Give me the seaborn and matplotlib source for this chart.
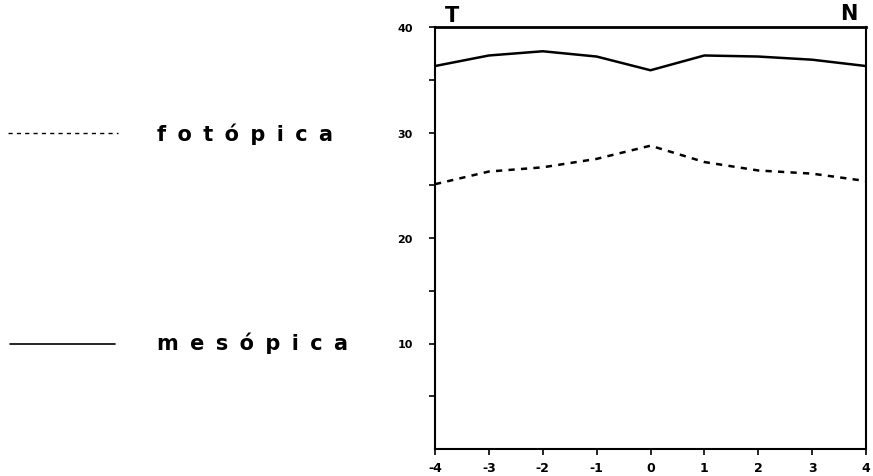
import matplotlib
matplotlib.use("Agg")
import matplotlib.pyplot as plt
from matplotlib.lines import Line2D
import seaborn as sns
import pandas as pd

x_vals = [-4, -3, -2, -1, 0, 1, 2, 3, 4]
mesopica = [36.3, 37.3, 37.7, 37.2, 35.9, 37.3, 37.2, 36.9, 36.3]
fotopica = [25.1, 26.3, 26.7, 27.5, 28.75, 27.2, 26.4, 26.1, 25.4]
y_ticks_major = [10, 20, 30, 40]
y_ticks_all = [5, 10, 15, 20, 25, 30, 35, 40]
x_tick_labels = ["-4", "-3", "-2", "-1", "0", "1", "2", "3", "4"]

sns.set_theme(style="white")
plt.rcParams['font.family'] = ['DejaVu Sans']
plt.rcParams['text.color'] = 'black'
plt.rcParams['xtick.color'] = 'black'
plt.rcParams['ytick.color'] = 'black'

df = pd.DataFrame({
    "x": x_vals * 2,
    "y": mesopica + fotopica,
    "serie": ["mesópica"] * len(x_vals) + ["fotópica"] * len(x_vals),
})

fig = plt.figure(figsize=(8.73, 4.77), dpi=100)
W, H = 873, 477
ax = fig.add_axes([435 / W, (H - 450) / H, (866 - 435) / W, (450 - 28) / H])

sns.lineplot(data=df, x="x", y="y", style="serie",
             dashes={"mesópica": "", "fotópica": (2.5, 2.5)},
             color="black", linewidth=1.8, legend=False, ax=ax)

ax.set_xlim(-4, 4)
ax.set_ylim(0, 40)
ax.set_xticks(x_vals)
ax.set_xticklabels(x_tick_labels, fontsize=9, fontweight="bold")
ax.set_yticks(y_ticks_all)
ax.set_yticklabels([str(v) if v in y_ticks_major else "" for v in y_ticks_all],
                   fontsize=8, fontweight="bold")
ax.tick_params(axis="both", direction="out", length=4, width=1.2, color="black",
               bottom=True, left=True)
ax.tick_params(axis="y", pad=12)
ax.tick_params(axis="x", pad=5)
ax.set_xlabel("")
ax.set_ylabel("")
for s in ax.spines.values():
    s.set_color("black")
    s.set_linewidth(1.5)
ax.spines["top"].set_linewidth(2)

ax.text(0.022, 1.005, "T", transform=ax.transAxes, ha="left", va="bottom",
        fontsize=15, fontweight="bold")
ax.text(0.98, 1.01, "N", transform=ax.transAxes, ha="right", va="bottom",
        fontsize=15, fontweight="bold")

# legend drawn at figure level
fig.add_artist(Line2D([8 / W, 118 / W], [(H - 134) / H] * 2, color="black",
                      linewidth=1.0, linestyle=(0, (3, 3)), transform=fig.transFigure))
fig.add_artist(Line2D([10 / W, 115 / W], [(H - 345) / H] * 2, color="black",
                      linewidth=1.2, transform=fig.transFigure))
sp = " \u2009"
fig.text(157 / W, (H - 134) / H, sp.join("fotópica"), fontsize=15,
         fontweight="bold", ha="left", va="center")
fig.text(157 / W, (H - 343) / H, sp.join("mesópica"), fontsize=15,
         fontweight="bold", ha="left", va="center")

fig.savefig("out.png", dpi=100, facecolor="white")
